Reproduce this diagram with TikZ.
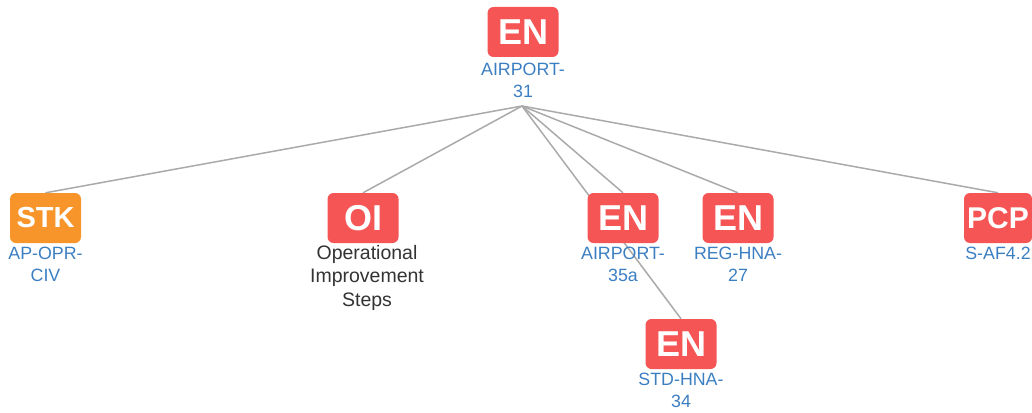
\documentclass[tikz,border=0pt]{standalone}
\usepackage{fontspec}
\setmainfont{Liberation Sans}
\usetikzlibrary{backgrounds}
\definecolor{boxred}{HTML}{F55555}
\definecolor{boxorange}{HTML}{F7952B}
\definecolor{lblblue}{HTML}{3B7EC2}
\definecolor{lblgray}{HTML}{333333}
\definecolor{edgegray}{HTML}{AAAAAA}
\begin{document}
\begin{tikzpicture}[x=1pt,y=-1pt,
  tag/.style={draw=none,rounded corners=6pt,minimum width=71pt,minimum height=50pt,inner sep=0pt,text=white,font=\bfseries\fontsize{36}{36}\selectfont},
  redtag/.style={tag,fill=boxred},
  orangetag/.style={tag,fill=boxorange},
  bluelbl/.style={anchor=north,inner sep=0pt,align=center,text=lblblue,font=\fontsize{17.8}{22}\selectfont},
  graylbl/.style={anchor=north,inner sep=0pt,align=center,text=lblgray,font=\fontsize{19.5}{23.5}\selectfont},
  link/.style={draw=edgegray,line width=1.5pt}]
\useasboundingbox (0,0) rectangle (1032,412);
\coordinate (hub) at (522,106);
% nodes
\node[redtag] (root) at (523,32) {EN};
\node[orangetag,font=\bfseries\fontsize{29}{29}\selectfont] (stk) at (45.5,218) {STK};
\node[redtag] (oi) at (363,218) {OI};
\node[redtag] (en35) at (623,218) {EN};
\node[redtag] (en27) at (738,218) {EN};
\node[redtag,minimum width=68pt,font=\bfseries\fontsize{30}{30}\selectfont] (pcp) at (998,218) {PCP};
\node[redtag] (en34) at (681,344) {EN};
% labels
\node[bluelbl] (lroot) at (523,63) {AIRPORT-\\31};
\node[bluelbl] (lstk) at (45.5,247) {AP-OPR-\\CIV};
\node[graylbl] (loi) at (367,245) {Operational\\Improvement\\Steps};
\node[bluelbl] (len35) at (623,247) {AIRPORT-\\35a};
\node[bluelbl] (len27) at (738,247) {REG-HNA-\\27};
\node[bluelbl] (lpcp) at (998,247) {S-AF4.2};
\node[bluelbl] (len34) at (681,373) {STD-HNA-\\34};
% edges (behind nodes)
\begin{scope}[on background layer]
\draw[link] (hub) -- (stk.north);
\draw[link] (hub) -- (oi.north);
\draw[link] (hub) -- (en35.north);
\draw[link] (hub) -- (en27.north);
\draw[link] (hub) -- (pcp.north);
\draw[link] (hub) -- (en34.north);
\end{scope}
\end{tikzpicture}
\end{document}
